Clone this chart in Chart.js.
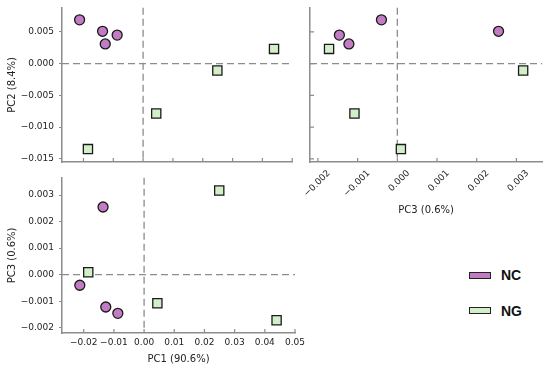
<!DOCTYPE html>
<html>
<head>
<meta charset="utf-8">
<script src="https://cdn.jsdelivr.net/npm/chart.js@4.4.1/dist/chart.umd.min.js"></script>
<style>
  body { margin: 0; width: 550px; height: 370px; background: #fff; position: relative; overflow: hidden; }
  canvas { position: absolute; }
  #pc12 { left: 0; top: 0; }
  #pc32 { left: 290px; top: 0; }
  #pc13 { left: 0; top: 170px; }
  .sw { position: absolute; left: 469px; width: 22px; height: 7px; box-sizing: border-box; border: 1px solid #222; }
  .lab { position: absolute; left: 501px; font: bold 14px "Liberation Sans", Arial, sans-serif; line-height: 16px; color: #111; }
</style>
</head>
<body>
<canvas id="pc12" width="300" height="170"></canvas>
<canvas id="pc32" width="260" height="222"></canvas>
<canvas id="pc13" width="310" height="200"></canvas>
<div class="sw" style="top:272px;background:#c17cc4"></div><div class="lab" style="top:267px">NC</div>
<div class="sw" style="top:307px;background:#d3efca"></div><div class="lab" style="top:303px">NG</div>
<script>
// PCA scores
const groups = ["NC", "NG"];
const ncPC1 = [-0.0213, -0.0136, -0.0087, -0.0127];
const ncPC2 = [0.0069, 0.0051, 0.0045, 0.0031];
const ncPC3 = [-0.0004, 0.00255, -0.00146, -0.00122];
const ngPC1 = [-0.0185, 0.0044, 0.0249, 0.0439];
const ngPC2 = [-0.01347, -0.00785, -0.00108, 0.00232];
const ngPC3 = [0.00009, -0.00108, 0.00317, -0.00172];

const axisTitles = { pc1: "PC1 (90.6%)", pc2: "PC2 (8.4%)", pc3: "PC3 (0.6%)" };
const ranges = { pc1: [-0.0272, 0.05], pc2: [-0.0155, 0.0088], pc3: [-0.0022, 0.00365] };
const steps = { pc1: 0.01, pc2: 0.005, pc3: 0.001 };
const decimals = { pc1: 2, pc2: 3, pc3: 3 };

const ncColor = "#c17cc4";
const ngColor = "#d3efca";
const axisGray = "#8c8c8c";
const font = "'DejaVu Sans', sans-serif";

function fmt(d) {
  return v => {
    if (Math.abs(v) < 1e-9) v = 0;
    return v.toFixed(d).replace("-", "\u2212");
  };
}

function pairs(xs, ys) {
  return xs.map((v, i) => ({ x: v, y: ys[i] }));
}

// dashed zero lines + inward tick marks
const guides = {
  id: "guides",
  beforeDatasetsDraw(chart, args, opts) {
    const { ctx, chartArea: a, scales: { x, y } } = chart;
    ctx.save();
    ctx.strokeStyle = axisGray;
    ctx.lineWidth = 1.3;
    ctx.setLineDash([7, 4]);
    const x0 = x.getPixelForValue(0);
    const y0 = y.getPixelForValue(0);
    ctx.beginPath();
    ctx.moveTo(x0, a.top); ctx.lineTo(x0, a.bottom);
    ctx.moveTo(a.left, y0); ctx.lineTo(a.right, y0);
    ctx.stroke();
    ctx.setLineDash([]);
    ctx.lineWidth = 1.2;
    ctx.beginPath();
    x.ticks.forEach((t, i) => {
      const px = x.getPixelForTick(i);
      ctx.moveTo(px, a.bottom); ctx.lineTo(px, a.bottom - 4);
    });
    if (opts.innerY) {
      y.ticks.forEach((t, i) => {
        const py = y.getPixelForTick(i);
        ctx.moveTo(a.left, py); ctx.lineTo(a.left + 4, py);
      });
    }
    ctx.stroke();
    ctx.restore();
  }
};

function makeChart(id, xKey, yKey, ncX, ncY, ngX, ngY, cfg) {
  const xAxis = {
    type: "linear",
    min: ranges[xKey][0], max: ranges[xKey][1],
    border: { color: axisGray, width: 1.5 },
    grid: { drawOnChartArea: false, drawTicks: false },
    ticks: {
      display: cfg.xLabels, stepSize: steps[xKey], includeBounds: false,
      callback: fmt(decimals[xKey]), color: "#222", font: { family: font, size: 9 },
      padding: cfg.xTickPad, maxRotation: cfg.rot, minRotation: cfg.rot, labelOffset: cfg.labelOffset
    },
    title: { display: cfg.xLabels, text: axisTitles[xKey], color: "#222",
      font: { family: font, size: 10 }, padding: { top: 0, bottom: cfg.xTitlePad } },
    afterFit: s => { s.height = cfg.xHeight; s.paddingLeft = 0; s.paddingRight = 0; }
  };
  const yAxis = {
    type: "linear",
    min: ranges[yKey][0], max: ranges[yKey][1],
    border: { color: axisGray, width: 1.5 },
    grid: { drawOnChartArea: false, drawTicks: cfg.yLabels, tickLength: 3, tickColor: axisGray, tickWidth: 1.2 },
    ticks: {
      display: cfg.yLabels, stepSize: steps[yKey], includeBounds: false,
      callback: fmt(decimals[yKey]), color: "#222", font: { family: font, size: 9 }, padding: 5
    },
    title: { display: cfg.yLabels, text: axisTitles[yKey], color: "#222",
      font: { family: font, size: 10 }, padding: { top: 6, bottom: 0 } },
    afterFit: s => { s.width = cfg.yWidth; s.paddingTop = 0; s.paddingBottom = 0; }
  };
  return new Chart(document.getElementById(id), {
    type: "scatter",
    data: {
      datasets: [
        { label: groups[0], data: pairs(ncX, ncY), pointStyle: "circle", pointRadius: 5,
          backgroundColor: ncColor, borderColor: "#1a1a1a", borderWidth: 1.3 },
        { label: groups[1], data: pairs(ngX, ngY), pointStyle: "rect", pointRadius: 6.5,
          backgroundColor: ngColor, borderColor: "#1a1a1a", borderWidth: 1.3 }
      ]
    },
    options: {
      responsive: false,
      animation: false,
      layout: { padding: cfg.pad },
      plugins: { legend: { display: false }, tooltip: { enabled: false }, guides: { innerY: cfg.innerY } },
      scales: { x: xAxis, y: yAxis }
    },
    plugins: [guides]
  });
}

makeChart("pc12", "pc1", "pc2", ncPC1, ncPC2, ngPC1, ngPC2, {
  xLabels: false, yLabels: true, rot: 0, xHeight: 0, yWidth: 62, innerY: false, xTitlePad: 0,
  xTickPad: 4, labelOffset: 0, pad: { top: 5, right: 5, bottom: 8, left: 0 }
});
makeChart("pc32", "pc3", "pc2", ncPC3, ncPC2, ngPC3, ngPC2, {
  xLabels: true, yLabels: false, rot: 45, xHeight: 60, yWidth: 0, innerY: true, xTitlePad: 6,
  xTickPad: 6, labelOffset: 11, pad: { top: 5, right: 7, bottom: 0, left: 20 }
});
makeChart("pc13", "pc1", "pc3", ncPC1, ncPC3, ngPC1, ngPC3, {
  xLabels: true, yLabels: true, rot: 0, xHeight: 37, yWidth: 62, innerY: false, xTitlePad: 5,
  xTickPad: 4, labelOffset: 0, pad: { top: 6, right: 15, bottom: 0, left: 0 }
});
</script>
</body>
</html>
